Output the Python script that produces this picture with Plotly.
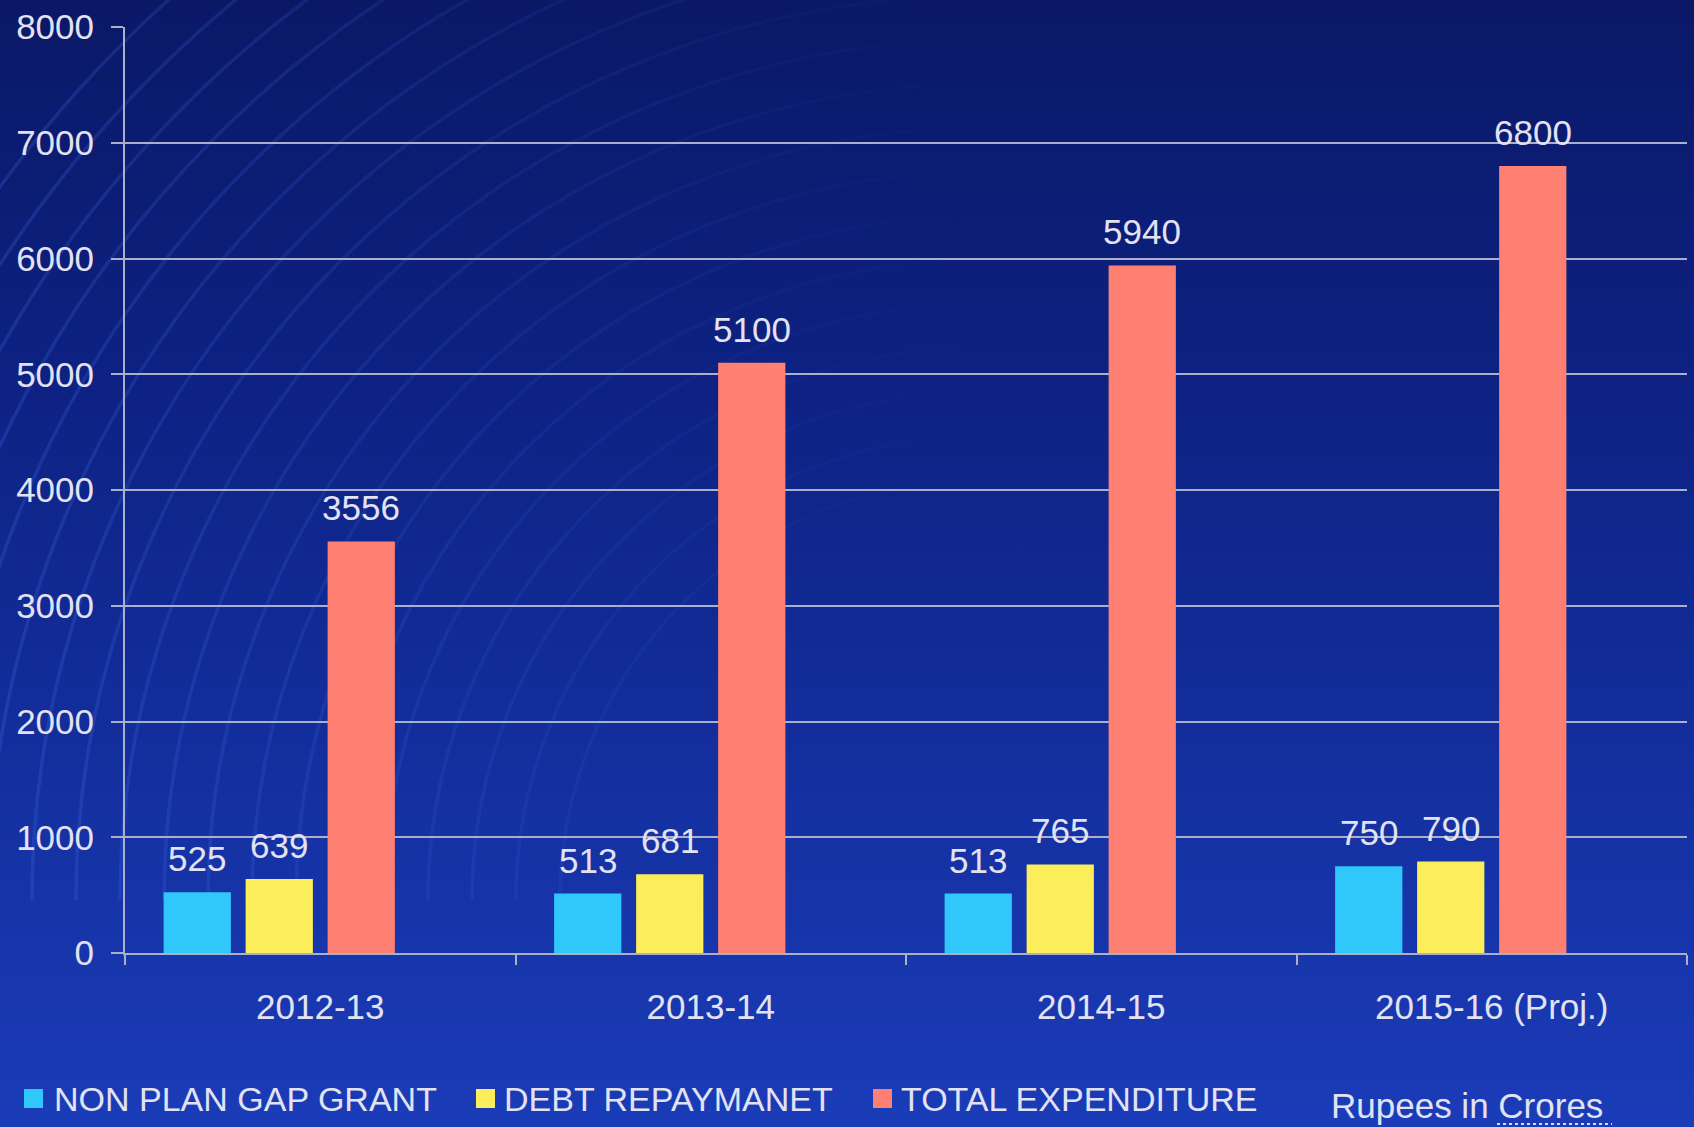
import base64
import numpy as np
import plotly.graph_objects as go

# data
years = ["2012-13", "2013-14", "2014-15", "2015-16 (Proj.)"]
non_plan_gap_grant = [525, 513, 513, 750]
debt_repayment = [639, 681, 765, 790]
total_expenditure = [3556, 5100, 5940, 6800]
series_names = ["NON PLAN GAP GRANT", "DEBT REPAYMANET", "TOTAL EXPENDITURE"]
series_colors = ["#30c8fa", "#fcee5a", "#fd8073"]
y_ticks = [0, 1000, 2000, 3000, 4000, 5000, 6000, 7000, 8000]
unit_note = "Rupees in Crores"

W, H = 1694, 1127
ML, MR, MT, MB = 125, 7, 27, 174
PW, PH = W - ML - MR, H - MT - MB
TEXT = "#e2e2f2"
GRID = "#aab0cc"
FONT = "Liberation Sans, Arial, sans-serif"


def px_x(x):
    return (x - ML) / PW


def px_y(y):
    return (H - MB - y) / PH


# background: vertical gradient with faint arcs top-left
arcs = ""
for r in range(420, 1250, 44):
    cx, cy = 980, 900
    arcs += (f'<path d="M{cx - r},{cy} A{r},{r} 0 0 1 {cx},{cy - r}" '
             f'fill="none" stroke="#4a78f4" stroke-width="3.5" opacity="0.22"/>')
svg = (f'<svg xmlns="http://www.w3.org/2000/svg" width="{W}" height="{H}" viewBox="0 0 {W} {H}">'
       '<defs><linearGradient id="g" x1="0" y1="0" x2="0" y2="1">'
       '<stop offset="0" stop-color="#0a1866"/>'
       '<stop offset="0.35" stop-color="#0d2283"/>'
       '<stop offset="0.7" stop-color="#1430a0"/>'
       '<stop offset="1" stop-color="#1b3cb8"/>'
       '</linearGradient>'
       '<linearGradient id="f" x1="0" y1="0" x2="1" y2="0">'
       '<stop offset="0" stop-color="#fff" stop-opacity="1"/>'
       '<stop offset="0.6" stop-color="#fff" stop-opacity="0"/>'
       '</linearGradient>'
       '<mask id="m"><rect width="100%" height="100%" fill="url(#f)"/></mask></defs>'
       f'<rect width="{W}" height="{H}" fill="url(#g)"/>'
       f'<g mask="url(#m)">{arcs}</g></svg>')
bg_src = "data:image/svg+xml;base64," + base64.b64encode(svg.encode()).decode()

fig = go.Figure()
all_values = [non_plan_gap_grant, debt_repayment, total_expenditure]
for name, vals, col in zip(series_names, all_values, series_colors):
    fig.add_trace(go.Bar(x=years, y=vals, name=name, marker=dict(color=col, line=dict(width=0)),
                         showlegend=False))
# empty fourth series slot (as in the original chart)
fig.add_trace(go.Bar(x=years, y=[None] * len(years), showlegend=False, hoverinfo="skip"))

# value labels above bars
slot = 0.84 / 4
annotations = []
for i, vals in enumerate(all_values):
    shift = (i - 1.5) * slot * PW / len(years)
    for yr, v in zip(years, vals):
        annotations.append(dict(x=yr, y=v, xref="x", yref="y", text=str(v), showarrow=False,
                                xshift=shift, yshift=12, yanchor="bottom",
                                font=dict(size=35, color=TEXT, family=FONT)))

# legend at the bottom
shapes = []
leg_sq = [24, 476, 873]
leg_tx = [52, 502, 899]
for name, col, sx, tx in zip(series_names, series_colors, leg_sq, leg_tx):
    shapes.append(dict(type="rect", xref="paper", yref="paper",
                       x0=px_x(sx), x1=px_x(sx + 19), y0=px_y(1108), y1=px_y(1089),
                       fillcolor=col, line=dict(width=0)))
    annotations.append(dict(x=px_x(tx), y=px_y(1099), xref="paper", yref="paper", text=name,
                            showarrow=False, xanchor="left", yanchor="middle",
                            font=dict(size=34, color=TEXT, family=FONT)))
annotations.append(dict(x=px_x(1329), y=px_y(1105), xref="paper", yref="paper", text=unit_note,
                        showarrow=False, xanchor="left", yanchor="middle",
                        font=dict(size=35, color=TEXT, family=FONT)))
shapes.append(dict(type="line", xref="paper", yref="paper", x0=px_x(1497), x1=px_x(1612),
                   y0=px_y(1124), y1=px_y(1124), line=dict(color="#d8dcf0", width=2, dash="dot")))

fig.update_layout(
    width=W, height=H,
    margin=dict(l=ML, r=MR, t=MT, b=MB, autoexpand=False),
    barmode="group", bargap=0.16, bargroupgap=0.18,
    paper_bgcolor="#10268c", plot_bgcolor="rgba(0,0,0,0)",
    font=dict(family=FONT, size=35, color=TEXT),
    images=[dict(source=bg_src, xref="paper", yref="paper", x=-ML / PW, y=1 + MT / PH,
                 sizex=W / PW, sizey=H / PH, sizing="stretch", layer="below",
                 xanchor="left", yanchor="top")],
    annotations=annotations, shapes=shapes,
)
fig.update_yaxes(range=[0, 8000], tickvals=y_ticks, showgrid=True, gridcolor=GRID, gridwidth=2,
                 showline=True, linecolor=GRID, linewidth=2, ticks="outside", ticklen=12,
                 tickcolor=GRID, tickwidth=2, ticklabelstandoff=10, zeroline=False,
                 tickfont=dict(size=35, color=TEXT))
fig.update_xaxes(showline=True, linecolor=GRID, linewidth=2, ticks="outside", tickson="boundaries",
                 ticklen=10, tickcolor=GRID, tickwidth=2, ticklabelstandoff=22,
                 tickfont=dict(size=35, color=TEXT))

# drop the default page margin so the figure fills the window
fig.write_html("out.html", config={"displayModeBar": False},
               post_script="document.body.style.margin='0';")
